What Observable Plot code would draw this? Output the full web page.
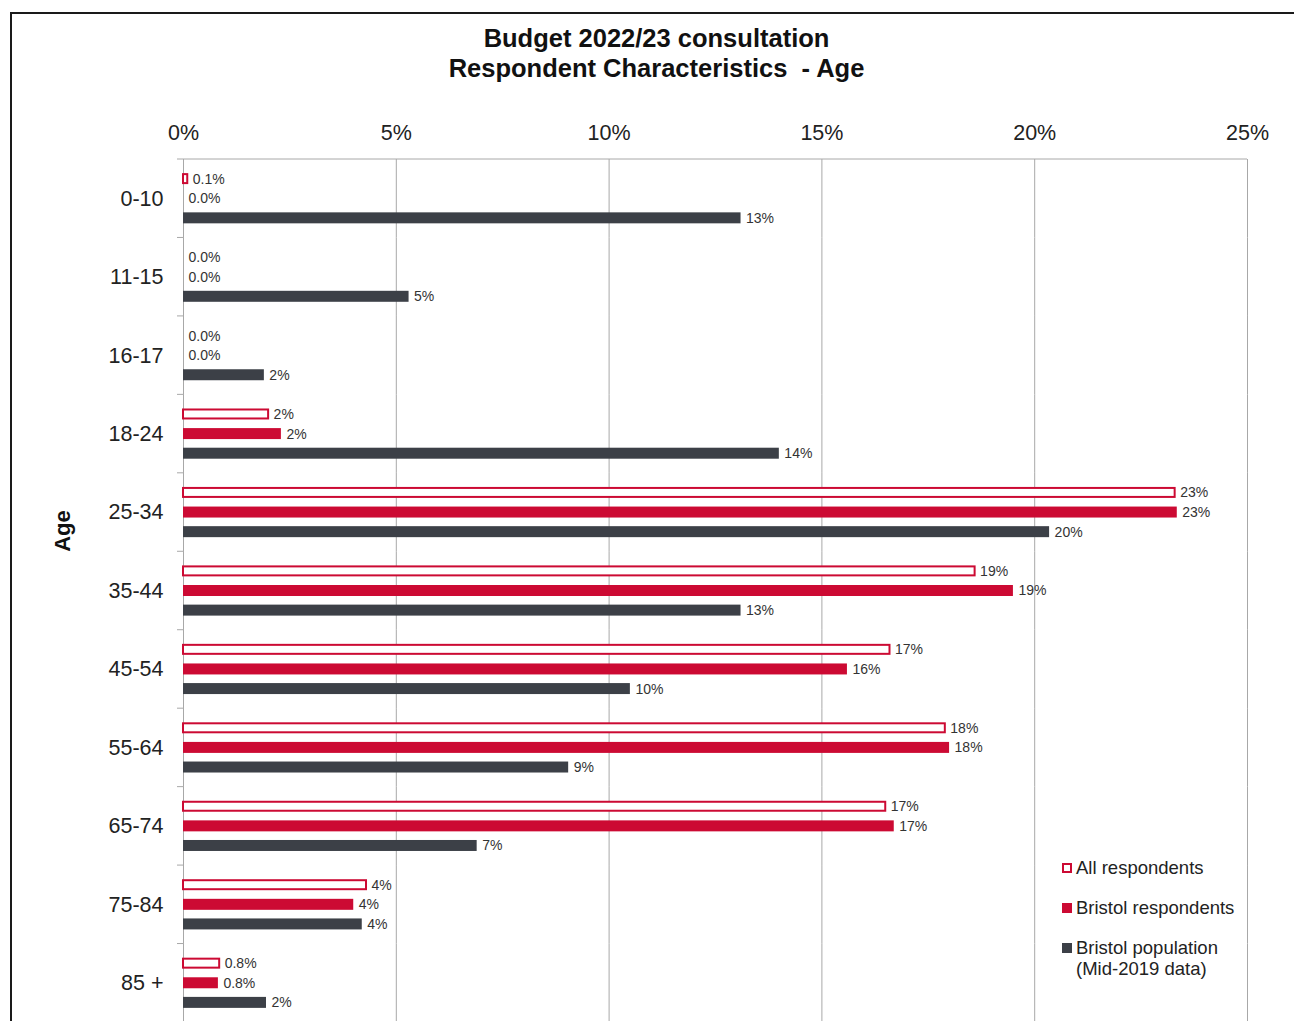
<!DOCTYPE html>
<html><head><meta charset="utf-8">
<script src="https://cdn.jsdelivr.net/npm/d3@7"></script>
<script src="https://cdn.jsdelivr.net/npm/@observablehq/plot@0.6"></script>
<style>
body{margin:0;width:1294px;height:1021px;overflow:hidden;background:#fff;font-family:"Liberation Sans",Arial,sans-serif;position:relative}
#border{position:absolute;left:10px;top:12px;width:1400px;height:1200px;border:2px solid #1a1a1a;box-sizing:border-box}
#title{position:absolute;left:0;width:1313px;top:23px;text-align:center;font-weight:bold;font-size:25.5px;line-height:30px;color:#111;white-space:pre}
#ylab{position:absolute;left:63px;top:531px;transform:translate(-50%,-50%) rotate(-90deg);font-weight:bold;font-size:22px;color:#111}
#chart{position:absolute;left:0;top:0}
.leg{position:absolute;left:1062px;font-size:18.5px;color:#222;line-height:21px}
.leg .sw{position:absolute;left:0;top:6px;width:10px;height:10px;box-sizing:border-box}
.leg .tx{position:absolute;left:14px;top:0;white-space:nowrap}
</style></head>
<body>
<div id="chart"></div>
<div id="border"></div>
<div id="title"></div>
<div id="ylab">Age</div>
<div id="legend"></div>
<script>
const titleLines = ["Budget 2022/23 consultation", "Respondent Characteristics  - Age"];
const ages = ["0-10","11-15","16-17","18-24","25-34","35-44","45-54","55-64","65-74","75-84","85 +"];
const seriesNames = ["All respondents","Bristol respondents","Bristol population"];
const legendLabels = ["All respondents","Bristol respondents","Bristol population\n(Mid-2019 data)"];
const allValues = [0.1, 0, 0, 2.0, 23.3, 18.6, 16.6, 17.9, 16.5, 4.3, 0.85];
const bristolValues = [0, 0, 0, 2.3, 23.35, 19.5, 15.6, 18.0, 16.7, 4.0, 0.82];
const popValues = [13.1, 5.3, 1.9, 14.0, 20.35, 13.1, 10.5, 9.05, 6.9, 4.2, 1.95];
const allLabels = ["0.1%","0.0%","0.0%","2%","23%","19%","17%","18%","17%","4%","0.8%"];
const bristolLabels = ["0.0%","0.0%","0.0%","2%","23%","19%","16%","18%","17%","4%","0.8%"];
const popLabels = ["13%","5%","2%","14%","20%","13%","10%","9%","7%","4%","2%"];
const xTicks = [0,5,10,15,20,25];

const RED = "#cc0a33", DARK = "#3c4047", GRID = "#a8a8a8";

document.getElementById("title").textContent = titleLines.join("\n");

const rows = [];
ages.forEach((a,i)=>{
  rows.push({age:a, series:seriesNames[0], value:allValues[i], label:allLabels[i]});
  rows.push({age:a, series:seriesNames[1], value:bristolValues[i], label:bristolLabels[i]});
  rows.push({age:a, series:seriesNames[2], value:popValues[i], label:popLabels[i]});
});
const bars = rows.filter(d=>d.value>0);

const chart = Plot.plot({
  width:1294, height:1022,
  marginTop:159, marginLeft:183, marginRight:47, marginBottom:0,
  style:{fontFamily:'"Liberation Sans", Arial, sans-serif', background:"transparent", color:"#222"},
  x:{domain:[0,25]},
  y:{domain:seriesNames, axis:null, paddingInner:0.44, paddingOuter:0.72, round:false},
  fy:{domain:ages, padding:0, round:false},
  marks:[
    Plot.gridX(xTicks, {stroke:GRID, strokeOpacity:1}),
    Plot.axisX(xTicks, {anchor:"top", tickSize:0, tickPadding:20, fontSize:21.5, label:null, tickFormat:d=>d+"%", fill:"#222"}),
    Plot.axisFy({anchor:"left", tickSize:0, tickPadding:20, fontSize:21.5, label:null, fill:"#222"}),
    Plot.ruleX([0], {stroke:GRID}),
    Plot.barX(bars.filter(d=>d.series===seriesNames[0]), {x:"value", y:"series", fy:"age", fill:"white", stroke:RED, strokeWidth:2, insetTop:1, insetBottom:1}),
    Plot.barX(bars.filter(d=>d.series===seriesNames[1]), {x:"value", y:"series", fy:"age", fill:RED}),
    Plot.barX(bars.filter(d=>d.series===seriesNames[2]), {x:"value", y:"series", fy:"age", fill:DARK}),
    Plot.text(rows, {x:"value", y:"series", fy:"age", text:"label", textAnchor:"start", dx:5, fontSize:14, fill:"#333"})
  ]
});
document.getElementById("chart").appendChild(chart);

// category boundary ticks and top axis line, positioned via the chart's scales
const sx = chart.scale("x"), sfy = chart.scale("fy");
const svg = d3.select(chart);
const x0 = sx.apply(0), x1 = sx.apply(25);
const bw = sfy.bandwidth;
const g = svg.append("g");
const tops = ages.map(a=>sfy.apply(a));
tops.push(tops[tops.length-1]+bw);
g.append("line").attr("x1",x0).attr("x2",x1).attr("y1",tops[0]).attr("y2",tops[0]).attr("stroke",GRID);
tops.forEach(t=>{
  g.append("line").attr("x1",x0-6).attr("x2",x0).attr("y1",t).attr("y2",t).attr("stroke",GRID);
});

// legend
const legTops = [857, 897, 937];
const leg = document.getElementById("legend");
legendLabels.forEach((l,i)=>{
  const d = document.createElement("div");
  d.className = "leg"; d.style.top = legTops[i]+"px";
  const sw = document.createElement("div"); sw.className="sw";
  if(i===0){sw.style.border="2px solid "+RED;sw.style.background="#fff";}
  else sw.style.background = i===1?RED:DARK;
  const tx = document.createElement("div"); tx.className="tx";
  tx.innerHTML = l.replace("\n","<br>");
  d.appendChild(sw); d.appendChild(tx); leg.appendChild(d);
});
</script>
</body></html>
